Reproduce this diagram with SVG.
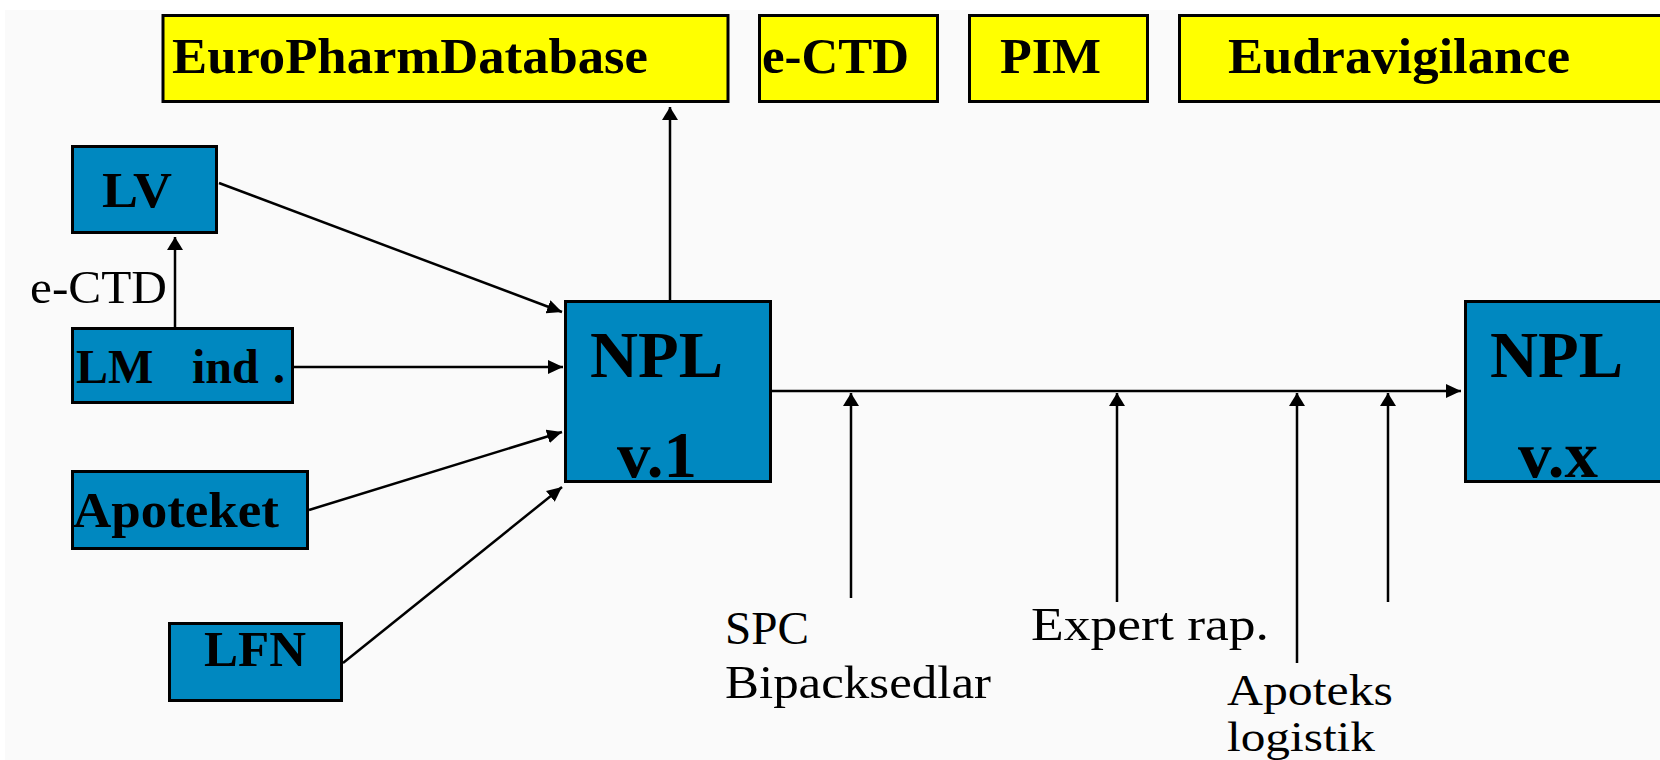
<svg xmlns="http://www.w3.org/2000/svg" width="1660" height="760" viewBox="0 0 1660 760">
<defs>
<style>
.bg{fill:#fafafa}
.yb{fill:#ffff00;stroke:#000;stroke-width:3}
.bb{fill:#0088c0;stroke:#000;stroke-width:3}
.tb{font-family:"Liberation Serif","Times New Roman",serif;font-weight:bold;fill:#000}
.tr{font-family:"Liberation Serif","Times New Roman",serif;font-weight:normal;fill:#000}
.c{stroke:#000;stroke-width:2.5;fill:none}
</style>
<marker id="ah" viewBox="0 0 15 14" refX="15" refY="7" markerWidth="15" markerHeight="14" markerUnits="userSpaceOnUse" orient="auto">
<path d="M0,0 L15,7 L0,14 z" fill="#000"/>
</marker>
<marker id="au" viewBox="0 0 13 16" refX="13" refY="8" markerWidth="13" markerHeight="16" markerUnits="userSpaceOnUse" orient="auto">
<path d="M0,0 L13,8 L0,16 z" fill="#000"/>
</marker>
</defs>
<rect x="0" y="0" width="1660" height="760" fill="#ffffff"/>
<rect class="bg" x="5" y="10" width="1655" height="750"/>

<g id="connectors">
<line class="c" x1="670" y1="300" x2="670" y2="107" marker-end="url(#au)"/>
<line class="c" x1="175" y1="327" x2="175" y2="237" marker-end="url(#au)"/>
<line class="c" x1="219" y1="183" x2="562" y2="312" marker-end="url(#ah)"/>
<line class="c" x1="294" y1="367" x2="563" y2="367" marker-end="url(#ah)"/>
<line class="c" x1="309" y1="510" x2="562" y2="432" marker-end="url(#ah)"/>
<line class="c" x1="343" y1="663" x2="562" y2="487" marker-end="url(#ah)"/>
<line class="c" x1="771" y1="391" x2="1461" y2="391" stroke-width="3" marker-end="url(#ah)"/>
<line class="c" x1="851" y1="598" x2="851" y2="393" marker-end="url(#au)"/>
<line class="c" x1="1117" y1="602" x2="1117" y2="393" marker-end="url(#au)"/>
<line class="c" x1="1297" y1="663" x2="1297" y2="393" marker-end="url(#au)"/>
<line class="c" x1="1388" y1="602" x2="1388" y2="393" marker-end="url(#au)"/>
</g>

<g id="labels">
<text class="tr" x="30" y="303" font-size="47" textLength="137" lengthAdjust="spacingAndGlyphs">e-CTD</text>
<text class="tr" x="725" y="644" font-size="47" textLength="84" lengthAdjust="spacingAndGlyphs">SPC</text>
<text class="tr" x="725" y="698" font-size="47" textLength="266" lengthAdjust="spacingAndGlyphs">Bipacksedlar</text>
<text class="tr" x="1031" y="640" font-size="47" textLength="238" lengthAdjust="spacingAndGlyphs">Expert rap.</text>
<text class="tr" x="1227" y="705" font-size="44" textLength="166" lengthAdjust="spacingAndGlyphs">Apoteks</text>
<text class="tr" x="1227" y="751" font-size="42" textLength="148" lengthAdjust="spacingAndGlyphs">logistik</text>
</g>

<g id="europharm">
<rect class="yb" x="163" y="15.5" width="565" height="86"/>
<text class="tb" x="172" y="73" font-size="50" textLength="476" lengthAdjust="spacingAndGlyphs">EuroPharmDatabase</text>
</g>
<g id="ectd">
<rect class="yb" x="759.5" y="15.5" width="178" height="86"/>
<text class="tb" x="762" y="73" font-size="50" textLength="147" lengthAdjust="spacingAndGlyphs">e-CTD</text>
</g>
<g id="pim">
<rect class="yb" x="969.5" y="15.5" width="178" height="86"/>
<text class="tb" x="1000" y="73" font-size="50" textLength="101" lengthAdjust="spacingAndGlyphs">PIM</text>
</g>
<g id="eudravigilance">
<rect class="yb" x="1179.5" y="15.5" width="520" height="86"/>
<text class="tb" x="1228" y="73" font-size="50" textLength="342" lengthAdjust="spacingAndGlyphs">Eudravigilance</text>
</g>

<g id="lv">
<rect class="bb" x="72.5" y="146.5" width="144" height="86"/>
<text class="tb" x="102" y="207" font-size="50" textLength="70" lengthAdjust="spacingAndGlyphs">LV</text>
</g>
<g id="lmind">
<rect class="bb" x="72.5" y="328.5" width="220" height="74"/>
<text class="tb" x="76" y="383" font-size="48">LM <tspan x="192">ind </tspan><tspan x="273">.</tspan></text>
</g>
<g id="apoteket">
<rect class="bb" x="72.5" y="471.5" width="235" height="77"/>
<text class="tb" x="73" y="527" font-size="50" textLength="206" lengthAdjust="spacingAndGlyphs">Apoteket</text>
</g>
<g id="lfn">
<rect class="bb" x="169.5" y="623.5" width="172" height="77"/>
<text class="tb" x="204" y="666" font-size="50" textLength="102" lengthAdjust="spacingAndGlyphs">LFN</text>
</g>
<g id="npl-v1">
<rect class="bb" x="565.5" y="301.5" width="205" height="180"/>
<text class="tb" x="590" y="377" font-size="66" textLength="133" lengthAdjust="spacingAndGlyphs">NPL</text>
<text class="tb" x="617" y="477" font-size="66" textLength="80" lengthAdjust="spacingAndGlyphs">v.1</text>
</g>
<g id="npl-vx">
<rect class="bb" x="1465.5" y="301.5" width="300" height="180"/>
<text class="tb" x="1490" y="377" font-size="66" textLength="133" lengthAdjust="spacingAndGlyphs">NPL</text>
<text class="tb" x="1518" y="477" font-size="66" textLength="80" lengthAdjust="spacingAndGlyphs">v.x</text>
</g>
</svg>
